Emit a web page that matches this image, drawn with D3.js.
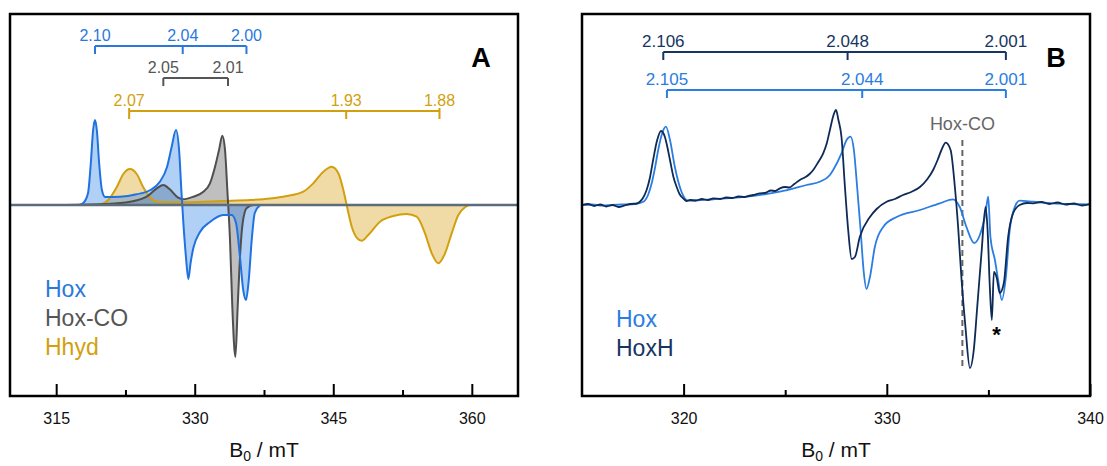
<!DOCTYPE html>
<html>
<head>
<meta charset="utf-8">
<script src="https://cdn.jsdelivr.net/npm/d3@7"></script>
<style>
  body { margin: 0; background: #fff; }
  svg { font-family: "Liberation Sans", Arial, sans-serif; }
</style>
</head>
<body>
<div id="container"></div>
<script>
// Declare the chart dimensions.
const width = 1107;
const height = 466;
const frameTop = 14;
const frameBottom = 396;

// Panel A: simulated spectra, [B0 in mT, intensity]
const hoxA = [[317.5,0],[317.94,2],[318.45,12],[318.75,42],[319.0,75],[319.2,85],[319.4,75],[319.65,42],[319.95,15],[320.3,8],[321.9,8.3],[323.7,10.7],[325.2,15],[326.2,23],[327.0,38],[327.5,58],[327.97,75],[328.33,52],[328.55,15],[328.77,-18],[329.05,-52],[329.31,-74],[329.55,-58],[329.85,-43],[330.57,-27],[331.65,-17],[333.1,-10],[334.0,-10],[334.47,-18],[334.9,-52],[335.25,-85],[335.55,-95],[335.85,-75],[336.17,-35],[336.5,-8],[337.1,0]];
const hoxCoA = [[316,0],[320.5,1],[323,3.3],[324.8,8.3],[325.9,16.7],[326.6,20],[327.3,15.7],[328.2,7.3],[328.77,5.7],[329.85,8.3],[330.93,13.3],[331.65,21.7],[332.2,38.3],[332.63,55],[332.99,69.3],[333.28,55],[333.53,15],[333.82,-35],[334.07,-102],[334.4,-152],[334.65,-102],[334.9,-52],[335.19,-18],[335.63,-3],[336.34,0],[338,0]];
const hhydA = [[319,0],[319.74,0.5],[320.64,5],[321.55,17.7],[322.27,31],[322.99,36],[323.72,31],[324.43,17.7],[325.16,7.7],[326.06,3.3],[329.13,2.7],[333,4],[336,5],[338.15,6.5],[339.96,9],[341.76,13.3],[342.84,21.7],[343.92,33.3],[344.83,38.3],[345.55,31.7],[346.09,15],[346.45,0],[347.0,-21.7],[347.6,-33.3],[348.07,-35.7],[348.79,-30],[350.06,-16.7],[351.5,-11],[352.95,-9],[354.03,-11.7],[354.93,-28.3],[355.66,-48.3],[356.37,-58.3],[357.1,-48.3],[357.82,-28.3],[358.54,-10],[359.26,-2.3],[359.8,0],[362,0]];

// Panel A: g-value markers, [label, B0 in mT]
const hoxGA = [["2.10",319.2],["2.04",328.7],["2.00",335.6]];
const hoxCoGA = [["2.05",326.6],["2.01",333.6]];
const hhydGA = [["2.07",322.9],["1.93",346.4],["1.88",356.5]];

// Panel B: measured spectra, [B0 in mT, intensity]
const hoxB = [[315,0],[315.5,0.5],[316,-0.5],[316.5,0],[317,0.5],[317.6,1],[318.02,3.3],[318.25,10],[318.43,21.7],[318.6,38],[318.75,55],[318.95,72],[319.13,78.3],[319.33,65],[319.57,38],[319.9,13],[320.23,4.3],[320.6,4.5],[321.46,5.7],[323.1,8.3],[324.74,13.3],[326.05,20],[326.7,23.3],[327.2,30],[327.36,35],[327.77,51.7],[328.02,65],[328.22,68.3],[328.38,55],[328.54,18],[328.71,-25],[328.87,-68],[329.0,-84],[329.17,-72],[329.41,-42],[329.82,-22],[330.48,-12],[331.63,-5],[332.61,1.7],[333.26,5.7],[333.59,-2],[333.92,-22],[334.3,-38],[334.58,-30],[334.86,-8],[334.99,8.3],[335.1,-32],[335.32,-55],[335.48,-75],[335.66,-95],[335.86,-72],[336.05,-25],[336.3,-2],[336.54,4.3],[337.2,3.3],[338.18,1.7],[339,1],[340,0.5]];
const hoxhB = [[315.0,0],[315.3,1],[315.6,-1],[315.9,0.5],[316.2,-1.5],[316.5,0],[316.8,-2],[317.1,-0.5],[317.4,1],[317.7,1.5],[317.85,3.3],[318.0,7],[318.18,15],[318.35,28],[318.5,45],[318.7,65],[318.89,74],[319.08,68],[319.2,58],[319.33,45],[319.5,28],[319.66,18],[319.8,11],[319.98,6.7],[320.15,4],[320.31,5],[320.6,4.5],[320.9,6],[321.2,5],[321.46,6.7],[321.8,6],[322.1,7.5],[322.4,7],[322.7,8.5],[323.0,8],[323.2,9],[323.43,10],[323.76,11.7],[324.0,12],[324.3,14.5],[324.5,14],[324.74,16.7],[325.0,18],[325.2,17.5],[325.45,21],[325.72,25],[326.0,28],[326.2,31],[326.38,35],[326.6,42],[326.87,51.7],[327.05,62],[327.2,75],[327.38,90],[327.5,95],[327.62,85],[327.77,68],[327.94,18],[328.1,-25],[328.27,-54],[328.43,-52],[328.67,-32],[329.17,-12],[329.5,-4],[329.99,3.3],[330.4,6],[330.8,10],[331.2,13],[331.63,18],[332.0,26],[332.28,35],[332.5,45],[332.69,55],[332.9,62.3],[333.14,55],[333.35,18],[333.51,-22],[333.68,-75],[333.87,-122],[334.09,-163],[334.28,-145],[334.45,-102],[334.66,-48],[334.86,-2],[334.96,-25],[335.07,-82],[335.17,-115],[335.27,-67],[335.4,-72],[335.56,-88],[335.76,-78],[335.97,-32],[336.22,-8],[336.54,0],[336.9,2],[337.2,1.7],[337.6,3],[338.0,1],[338.4,2.5],[338.8,0.5],[339.2,1.5],[339.6,-0.5],[340,1]];

// Panel B: g-value markers, [label, B0 in mT]
const hoxhGB = [["2.106",319.0],["2.048",328.07],["2.001",335.86]];
const hoxGB = [["2.105",319.18],["2.044",328.79],["2.001",335.86]];
const hoxCoLineB = 333.72;

// Tick values
const ticksA = [315, 330, 345, 360];
const minorA = [322.5, 337.5, 352.5];
const ticksB = [320, 330, 340];
const minorB = [325, 335];

const blue = "#1f72e0";
const grey = "#4f4f4f";
const gold = "#d29f0e";
const navy = "#0e2a57";

// Declare the x and y scales.
const xA = d3.scaleLinear().domain([310, 365]).range([10, 518]);
const xB = d3.scaleLinear().domain([315, 340]).range([582, 1090]);
const y = d3.scaleLinear().domain([-191, 191]).range([frameBottom, frameTop]);

// Create the SVG container.
const svg = d3.create("svg").attr("width", width).attr("height", height);
document.getElementById("container").appendChild(svg.node());

const line = (x) => d3.line().x(d => x(d[0])).y(d => y(d[1])).curve(d3.curveMonotoneX);
const area = (x) => d3.area().x(d => x(d[0])).y0(y(0)).y1(d => y(d[1])).curve(d3.curveMonotoneX);

// Bottom axis with inward ticks, plus a frame round the plot.
function drawAxes(x, ticks, minor) {
  svg.append("g")
    .attr("transform", `translate(0,${frameBottom})`)
    .call(d3.axisBottom(x).tickValues(ticks).tickSize(-12).tickPadding(17).tickFormat(d3.format("d")))
    .call(g => g.select(".domain").remove())
    .call(g => g.selectAll("line").attr("stroke", "#000").attr("stroke-width", 2))
    .call(g => g.selectAll("text").attr("font-size", 16).attr("fill", "#111"));
  svg.append("g")
    .attr("transform", `translate(0,${frameBottom})`)
    .call(d3.axisBottom(x).tickValues(minor).tickSize(-6).tickFormat(""))
    .call(g => g.select(".domain").remove())
    .call(g => g.selectAll("line").attr("stroke", "#000").attr("stroke-width", 2));
  const [x0, x1] = x.range();
  svg.append("rect")
    .attr("x", x0).attr("y", frameTop)
    .attr("width", x1 - x0).attr("height", frameBottom - frameTop)
    .attr("fill", "none").attr("stroke", "#000").attr("stroke-width", 2.5);
  const title = svg.append("text")
    .attr("x", (x0 + x1) / 2).attr("y", 457)
    .attr("text-anchor", "middle").attr("font-size", 21).attr("fill", "#111");
  title.append("tspan").text("B");
  title.append("tspan").attr("font-size", 14).attr("dy", 4).text("0");
  title.append("tspan").attr("dy", -4).text(" / mT");
}

// g-value bracket: horizontal bar, ticks down, labels above.
function bracket(x, items, yBar, color, size, endUp) {
  const g = svg.append("g").attr("stroke", color).attr("fill", "none").attr("stroke-width", 2);
  const xs = items.map(d => x(d[1]));
  g.append("line").attr("x1", d3.min(xs)).attr("x2", d3.max(xs)).attr("y1", yBar).attr("y2", yBar);
  items.forEach((d, i) => {
    const end = i === 0 || i === items.length - 1;
    g.append("line")
      .attr("x1", x(d[1])).attr("x2", x(d[1]))
      .attr("y1", end && endUp ? yBar - 3 : yBar).attr("y2", yBar + 8);
  });
  svg.append("g").selectAll("text").data(items).join("text")
    .attr("x", d => x(d[1])).attr("y", yBar - 5)
    .attr("text-anchor", "middle").attr("font-size", size).attr("fill", color)
    .text(d => d[0]);
}

function legend(x0, entries) {
  svg.append("g").selectAll("text").data(entries).join("text")
    .attr("x", x0).attr("y", d => d[2])
    .attr("font-size", 23).attr("fill", d => d[1])
    .text(d => d[0]);
}

// ---- Panel A ----
const seriesA = [
  { data: hhydA, stroke: gold, fill: "#d9a521", op: 0.4 },
  { data: hoxCoA, stroke: grey, fill: "#808080", op: 0.5 },
  { data: hoxA, stroke: blue, fill: "#3d8ae6", op: 0.4 }
];
seriesA.forEach(s => {
  svg.append("path").datum(s.data)
    .attr("fill", s.fill).attr("fill-opacity", s.op)
    .attr("d", area(xA));
});
seriesA.forEach(s => {
  svg.append("path").datum(s.data)
    .attr("fill", "none").attr("stroke", s.stroke).attr("stroke-width", 2)
    .attr("d", line(xA));
});
svg.append("line")
  .attr("x1", xA(310)).attr("x2", xA(365)).attr("y1", y(0)).attr("y2", y(0))
  .attr("stroke", "#5d6c7b").attr("stroke-width", 2.5);

bracket(xA, hoxGA, 46, "#2a78dc", 16, false);
bracket(xA, hoxCoGA, 78, "#555", 16, false);
bracket(xA, hhydGA, 111, gold, 16, true);

drawAxes(xA, ticksA, minorA);
svg.append("text").attr("x", 481).attr("y", 67).attr("text-anchor", "middle")
  .attr("font-size", 27).attr("font-weight", "bold").text("A");
legend(45, [["Hox", "#2a78dc", 297], ["Hox-CO", "#555", 326], ["Hhyd", gold, 355]]);

// ---- Panel B ----
svg.append("line")
  .attr("x1", xB(hoxCoLineB)).attr("x2", xB(hoxCoLineB)).attr("y1", 140).attr("y2", 368)
  .attr("stroke", "#666").attr("stroke-width", 2).attr("stroke-dasharray", "6,4");
svg.append("text").attr("x", xB(hoxCoLineB)).attr("y", 130).attr("text-anchor", "middle")
  .attr("font-size", 18).attr("fill", "#666").text("Hox-CO");

svg.append("path").datum(hoxB)
  .attr("fill", "none").attr("stroke", "#2a7de1").attr("stroke-width", 1.8)
  .attr("d", line(xB));
svg.append("path").datum(hoxhB)
  .attr("fill", "none").attr("stroke", navy).attr("stroke-width", 1.8)
  .attr("d", line(xB));

bracket(xB, hoxhGB, 52, "#163563", 17, false);
bracket(xB, hoxGB, 90, "#2a7de1", 17, false);

svg.append("text").attr("x", xB(335.4)).attr("y", 342).attr("text-anchor", "middle")
  .attr("font-size", 22).attr("font-weight", "bold").text("*");

drawAxes(xB, ticksB, minorB);
svg.append("text").attr("x", 1056).attr("y", 67).attr("text-anchor", "middle")
  .attr("font-size", 27).attr("font-weight", "bold").text("B");
legend(616, [["Hox", "#2a7de1", 327], ["HoxH", "#163563", 356]]);
</script>
</body>
</html>
